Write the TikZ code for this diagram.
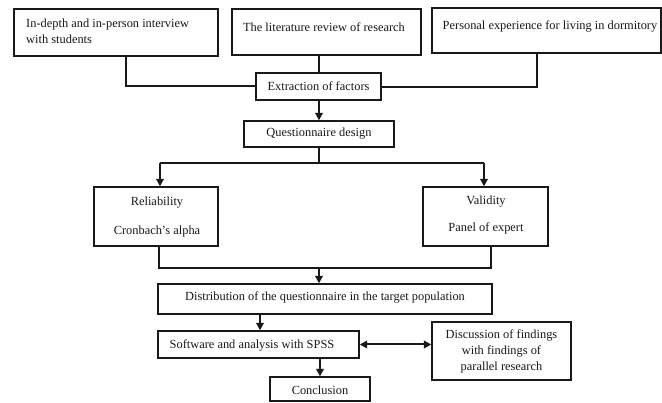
\documentclass[tikz,border=0pt]{standalone}
\usepackage{fontspec}
\setmainfont{Liberation Serif}
\usetikzlibrary{arrows.meta,positioning,calc}
\begin{document}
\begin{tikzpicture}[x=1pt,y=-1pt,
  box/.style={draw=black!90, line width=1.3pt, inner sep=0pt},
  lbl/.style={font=\fontsize{12.4}{15}\selectfont, inner sep=0pt, text=black!90},
  conn/.style={draw=black!90, line width=2pt},
  arr/.style={conn, -{Triangle[length=7.5pt,width=7.5pt]}},
  darr/.style={conn, {Triangle[length=7.5pt,width=7.5pt]}-{Triangle[length=7.5pt,width=7.5pt]}}]
\useasboundingbox[fill=white] (0,0) rectangle (662,403);
% boxes
\node[box, minimum width=204pt, minimum height=47pt] (b1) at (116,32.5) {};
\node[box, minimum width=189pt, minimum height=46pt] (b2) at (326.5,32) {};
\node[box, minimum width=229pt, minimum height=45pt] (b3) at (546.5,30.5) {};
\node[box, minimum width=125pt, minimum height=27pt] (ext) at (318.5,86.5) {};
\node[box, minimum width=150pt, minimum height=26pt] (qd) at (319,134) {};
\node[box, minimum width=124pt, minimum height=59pt] (rel) at (156,216.5) {};
\node[box, minimum width=125pt, minimum height=59pt] (val) at (485.5,216.5) {};
\node[box, minimum width=334pt, minimum height=30pt] (dist) at (325,299) {};
\node[box, minimum width=201pt, minimum height=27pt] (spss) at (258.5,344.5) {};
\node[box, minimum width=139pt, minimum height=58pt] (disc) at (501.5,351) {};
\node[box, minimum width=100pt, minimum height=24pt] (concl) at (320,389) {};
% texts
\node[lbl, anchor=west, align=left, font=\fontsize{12.4}{15.5}\selectfont] (t1) at (26,31.5) {In-depth and in-person interview\\with students};
\node[lbl] (t2) at (324,27) {The literature review of research};
\node[lbl] (t3) at (550,26) {Personal experience for living in dormitory};
\node[lbl] (t4) at (ext) {Extraction of factors};
\node[lbl] (t5) at (qd) {Questionnaire design};
\node[lbl] (t6) at (157,203) {Reliability};
\node[lbl] (t7) at (157,232) {Cronbach's alpha};
\node[lbl] (t8) at (486,202) {Validity};
\node[lbl] (t9) at (486,228) {Panel of expert};
\node[lbl] (t10) at (325,297) {Distribution of the questionnaire in the target population};
\node[lbl] (t11) at (252,345) {Software and analysis with SPSS};
\node[lbl, align=center, font=\fontsize{12.4}{16}\selectfont] (t12) at (501.5,351) {Discussion of findings\\with findings of\\parallel research};
\node[lbl] (t13) at (320,390) {Conclusion};
% junction coordinates
\coordinate (j1) at (126,86);
\coordinate (j2) at (319,70);
\coordinate (j3) at (537,87);
\coordinate (jq) at (319,163);
\coordinate (jl) at (160,163);
\coordinate (jr) at (484,163);
\coordinate (kl) at (159,268);
\coordinate (kr) at (491,268);
\coordinate (kc) at (319,268);
\coordinate (ds) at (260,314);
\coordinate (sc) at (320,358);
% connectors
\draw[conn] (b1.south -| j1) -- (j1) -- (ext.west |- j1);
\draw[conn] (b2.south -| j2) -- (ext.north -| j2);
\draw[conn] (b3.south -| j3) -- (j3) -- (ext.east |- j3);
\draw[arr] (ext.south -| j2) -- (qd.north -| j2);
\draw[conn] (qd.south -| jq) -- (jq);
\draw[conn] (jl) -- (jr);
\draw[arr] (jl) -- (rel.north -| jl);
\draw[arr] (jr) -- (val.north -| jr);
\draw[conn] (rel.south -| kl) -- (kl) -- (kr) -- (val.south -| kr);
\draw[arr] (kc) -- (dist.north -| kc);
\draw[arr] (dist.south -| ds) -- (spss.north -| ds);
\draw[arr] (spss.south -| sc) -- (concl.north -| sc);
\draw[darr] (spss.east) -- (disc.west |- spss.east);
\end{tikzpicture}
\end{document}
